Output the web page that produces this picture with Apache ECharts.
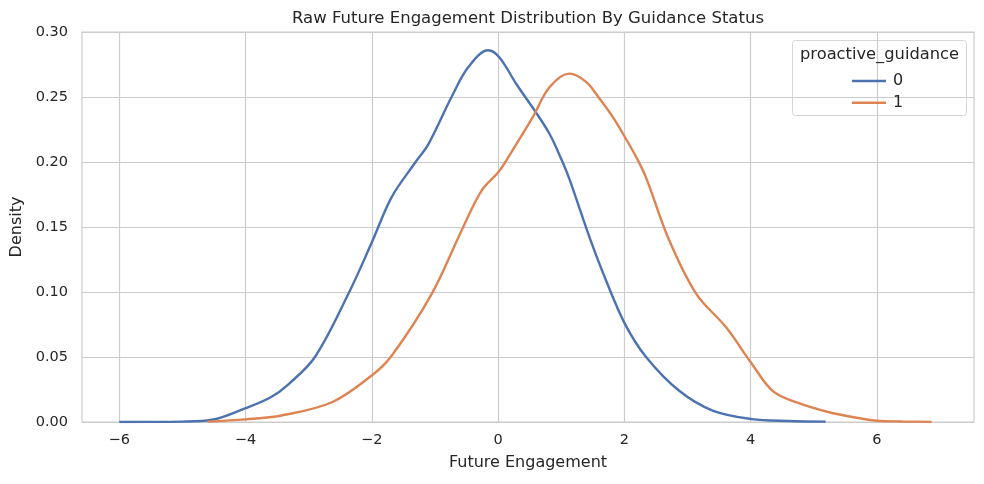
<!DOCTYPE html>
<html>
<head>
<meta charset="utf-8">
<script src="https://cdn.jsdelivr.net/npm/echarts@6/dist/echarts.min.js"></script>
<style>
  html, body { margin: 0; padding: 0; background: #fff; }
  #main { width: 984px; height: 484px; }
</style>
</head>
<body>
<div id="main"></div>
<script>
// KDE curves
var blueX = [-6.0, -5.0, -4.53, -4.0, -3.6, -3.32, -2.9, -2.37, -2.0, -1.685, -1.32, -1.1, -0.736, -0.47, -0.155, 0.02, 0.29, 0.58, 0.815, 1.0, 1.13, 1.45, 1.71, 2.01, 2.345, 2.87, 3.4, 4.02, 4.6, 5.19];
var blueY = [0, 0.0003, 0.0017, 0.0106, 0.019, 0.029, 0.05, 0.0986, 0.138, 0.173, 0.199, 0.214, 0.25, 0.273, 0.286, 0.2806, 0.26, 0.2396, 0.2217, 0.2025, 0.187, 0.142, 0.109, 0.0755, 0.05, 0.024, 0.0088, 0.0022, 0.0008, 0.0003];
var orangeX = [-4.6, -4.0, -3.43, -2.63, -2.0, -1.685, -1.05, -0.58, -0.26, 0.02, 0.23, 0.55, 0.815, 1.13, 1.4, 1.61, 1.82, 2.0, 2.19, 2.345, 2.71, 3.14, 3.61, 4.02, 4.35, 4.72, 5.245, 5.77, 6.0, 6.4, 6.87];
var orangeY = [0.0003, 0.002, 0.005, 0.0152, 0.0358, 0.051, 0.0986, 0.147, 0.178, 0.193, 0.209, 0.2345, 0.2575, 0.268, 0.2615, 0.2486, 0.2345, 0.22, 0.2037, 0.188, 0.14, 0.0986, 0.073, 0.0448, 0.024, 0.0152, 0.0075, 0.0025, 0.001, 0.0004, 0.0001];
var xTicks = [-6, -4, -2, 0, 2, 4, 6];
var seriesNames = ['0', '1'];

function pairs(xs, ys) {
    return xs.map(function (x, i) { return [x, ys[i]]; });
}

var font = 'DejaVu Sans';
var ink = '#262626';
var myChart = echarts.init(document.getElementById('main'));
var option = {
    backgroundColor: '#ffffff',
    animation: false,
    title: [{
        // centred over the plot area, not the page
        text: 'Raw Future Engagement Distribution By Guidance Status',
        left: 287,
        top: 5,
        textStyle: { fontFamily: font, fontSize: 16.5, fontWeight: 'normal', color: ink }
    }, {
        text: 'proactive_guidance',
        left: 795,
        top: 42,
        textStyle: { fontFamily: font, fontSize: 16.3, fontWeight: 'normal', color: ink }
    }],
    graphic: [{
        type: 'rect',
        shape: { x: 792.5, y: 40.5, width: 174, height: 75, r: 3 },
        style: { fill: 'rgba(255,255,255,0.8)', stroke: '#d6d6d6', lineWidth: 1 },
        z: 0
    }],
    legend: {
        orient: 'vertical',
        left: 847,
        top: 68,
        itemGap: 5.7,
        itemWidth: 34,
        itemHeight: 16,
        icon: 'path://M0,6.75 L34,6.75 L34,9.25 L0,9.25 Z',
        data: seriesNames,
        textStyle: { fontFamily: font, fontSize: 16, color: ink, padding: [0, 0, 0, 2] }
    },
    grid: {
        left: 82, right: 10, top: 32, bottom: 62,
        show: true, borderColor: '#cccccc', borderWidth: 1.2,
        containLabel: false
    },
    xAxis: {
        type: 'value',
        min: -6.59,
        max: 7.54,
        name: 'Future Engagement',
        nameLocation: 'middle',
        nameGap: 33,
        nameTextStyle: { fontFamily: font, fontSize: 16, color: ink },
        axisLine: { show: false },
        axisTick: { show: false, customValues: xTicks },
        axisLabel: {
            customValues: xTicks,
            fontFamily: font, fontSize: 14.5, color: ink, margin: 11,
            formatter: function (v) { return String(v).replace('-', '\u2212'); }
        },
        splitLine: { show: true, lineStyle: { color: '#cccccc', width: 1.2 } }
    },
    yAxis: {
        type: 'value',
        min: 0,
        max: 0.3,
        interval: 0.05,
        name: 'Density',
        nameLocation: 'middle',
        nameGap: 54,
        nameTextStyle: { fontFamily: font, fontSize: 16, color: ink },
        axisLine: { show: false },
        axisTick: { show: false },
        axisLabel: {
            fontFamily: font, fontSize: 14.5, color: ink, margin: 14,
            formatter: function (v) { return v.toFixed(2); }
        },
        splitLine: { show: true, lineStyle: { color: '#cccccc', width: 1.2 } }
    },
    series: [{
        name: seriesNames[0],
        type: 'line',
        data: pairs(blueX, blueY),
        smooth: 0.35,
        showSymbol: false,
        lineStyle: { color: '#4c72b0', width: 2.4 },
        itemStyle: { color: '#4c72b0' },
        z: 3
    }, {
        name: seriesNames[1],
        type: 'line',
        data: pairs(orangeX, orangeY),
        smooth: 0.35,
        showSymbol: false,
        lineStyle: { color: '#dd8452', width: 2.4 },
        itemStyle: { color: '#dd8452' },
        z: 3
    }]
};
myChart.setOption(option);
</script>
</body>
</html>
